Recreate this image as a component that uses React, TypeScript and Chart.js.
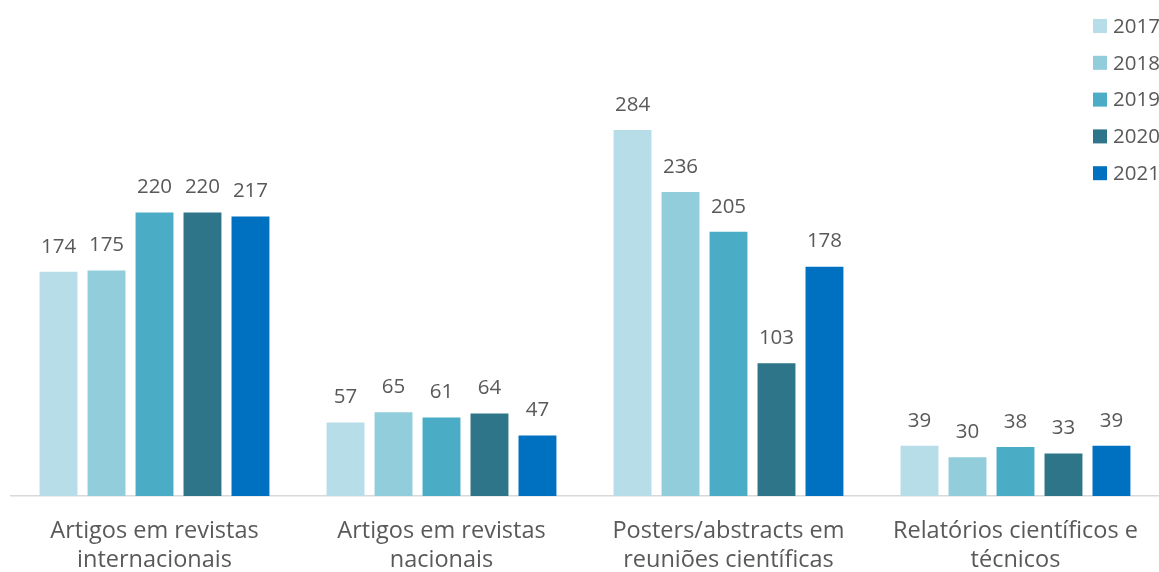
import React, { useEffect, useRef } from "react";
import { Chart, registerables } from "chart.js";

Chart.register(...registerables);

const categories: string[][] = [
  ["Artigos em revistas", "internacionais"],
  ["Artigos em revistas", "nacionais"],
  ["Posters/abstracts em", "reuniões científicas"],
  ["Relatórios científicos e", "técnicos"],
];
const years = ["2017", "2018", "2019", "2020", "2021"];
const v2017 = [174, 57, 284, 39];
const v2018 = [175, 65, 236, 30];
const v2019 = [220, 61, 205, 38];
const v2020 = [220, 64, 103, 33];
const v2021 = [217, 47, 178, 39];
const colors = ["#B7DEE8", "#92CDDC", "#4BACC6", "#2E7589", "#0070C0"];

const FONT = "'Open Sans', sans-serif";
const TEXT = "#595959";

const labelPlugin = {
  id: "valueLabels",
  afterDatasetsDraw(chart: any) {
    const ctx = chart.ctx;
    ctx.save();
    ctx.font = `20.5px ${FONT}`;
    ctx.fillStyle = TEXT;
    ctx.textAlign = "center";
    ctx.textBaseline = "middle";
    chart.data.datasets.forEach((ds: any, i: number) => {
      const meta = chart.getDatasetMeta(i);
      meta.data.forEach((el: any, j: number) => {
        ctx.fillText(String(ds.data[j]), el.x, el.y - 25);
      });
    });
    ctx.restore();
  },
};

const legendPlugin = {
  id: "customLegend",
  afterDraw(chart: any) {
    const ctx = chart.ctx;
    ctx.save();
    ctx.font = `20.5px ${FONT}`;
    ctx.textAlign = "left";
    ctx.textBaseline = "middle";
    chart.data.datasets.forEach((ds: any, i: number) => {
      const cy = 26 + i * 36.8;
      ctx.fillStyle = ds.backgroundColor;
      ctx.fillRect(1093, cy - 7, 14, 14);
      ctx.fillStyle = TEXT;
      ctx.fillText(ds.label, 1113, cy + 1);
    });
    ctx.restore();
  },
};

export default function App() {
  const ref = useRef<HTMLCanvasElement>(null);
  useEffect(() => {
    if (!ref.current) return;
    const series = [v2017, v2018, v2019, v2020, v2021];
    const chart = new Chart(ref.current, {
      type: "bar",
      data: {
        labels: categories,
        datasets: series.map((d, i) => ({
          label: years[i],
          data: d,
          backgroundColor: colors[i],
          categoryPercentage: 0.836,
          barPercentage: 0.79,
        })),
      },
      options: {
        responsive: false,
        animation: false,
        layout: { padding: { top: 45, left: 11, right: 0, bottom: -24 } },
        plugins: { legend: { display: false }, tooltip: { enabled: false } },
        events: [],
        scales: {
          x: {
            grid: { display: false, drawTicks: false },
            border: { display: true, color: "#D9D9D9", width: 1.5 },
            ticks: {
              color: TEXT,
              padding: 21,
              font: { family: FONT, size: 23.5, lineHeight: 1.234 },
              maxRotation: 0,
              autoSkip: false,
            },
          },
          y: {
            display: false,
            min: 0,
            max: 350,
          },
        },
      },
      plugins: [labelPlugin, legendPlugin],
    });
    return () => chart.destroy();
  }, []);
  return (
    <div style={{ position: "absolute", left: 0, top: 0, width: 1159, height: 572, background: "#fff", overflow: "hidden" }}>
      <canvas ref={ref} width={1159} height={572} style={{ display: "block" }} />
    </div>
  );
}
